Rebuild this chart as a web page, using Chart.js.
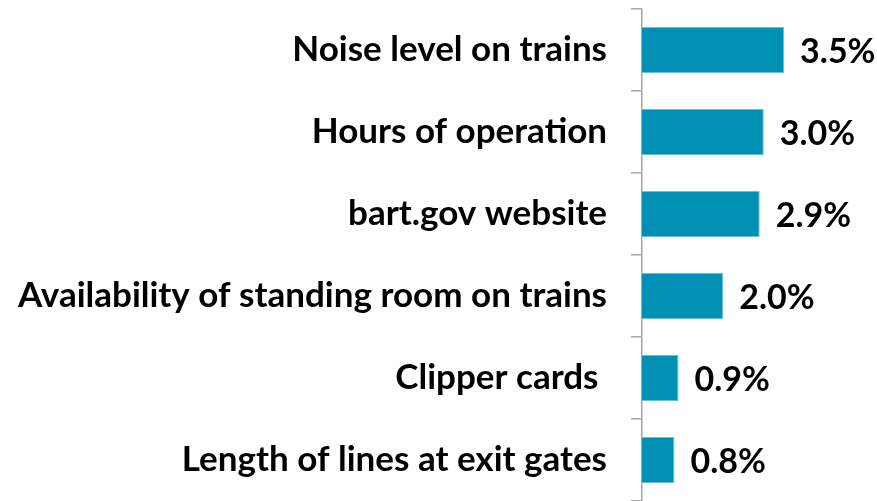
<!DOCTYPE html>
<html><head><meta charset="utf-8">
<script src="https://cdn.jsdelivr.net/npm/chart.js@4"></script>
<style>html,body{margin:0;padding:0;background:#fff;}#wrap{width:877px;height:501px;}</style>
</head><body><div id="wrap"><canvas id="c" width="877" height="501"></canvas></div>
<script>
const categories = ["Noise level on trains","Hours of operation","bart.gov website","Availability of standing room on trains","Clipper cards ","Length of lines at exit gates"];
const values = [3.5, 3.0, 2.9, 2.0, 0.9, 0.8];
const valueLabels = ["3.5%","3.0%","2.9%","2.0%","0.9%","0.8%"];

const FONT = "Lato";
const labelPlugin = {
  id: 'vlabels',
  afterDatasetsDraw(chart) {
    const ctx = chart.ctx;
    const meta = chart.getDatasetMeta(0);
    ctx.save();
    ctx.font = "bold 34px " + FONT;
    ctx.fillStyle = "#000";
    ctx.textAlign = "left";
    ctx.textBaseline = "middle";
    meta.data.forEach((bar, i) => {
      ctx.fillText(valueLabels[i], bar.x + 16, bar.y + 2);
    });
    ctx.restore();
  }
};

new Chart(document.getElementById('c'), {
  type: 'bar',
  data: { labels: categories, datasets: [{ data: values, backgroundColor: '#0090B4', borderColor: '#6CC0D6', borderWidth: 1, categoryPercentage: 1, barPercentage: 0.56 }] },
  options: {
    indexAxis: 'y', responsive: false, animation: false,
    layout: { padding: { left: 0, right: 32, top: 9, bottom: 0 } },
    plugins: { legend: { display: false }, tooltip: { enabled: false } },
    scales: {
      x: { display: false, min: 0, max: 5 },
      y: {
        afterFit(s) { s.width = 642; s.paddingTop = 0; s.paddingBottom = 0; },
        border: { display: true, color: '#A6A6A6', width: 1.5 },
        grid: { display: true, drawOnChartArea: false, drawTicks: true, tickLength: 11, color: '#A6A6A6', lineWidth: 1.5, offset: true },
        ticks: { color: '#000', padding: 24, font: { family: FONT, weight: 'bold', size: 35 } }
      }
    }
  },
  plugins: [labelPlugin]
});
</script></body></html>
